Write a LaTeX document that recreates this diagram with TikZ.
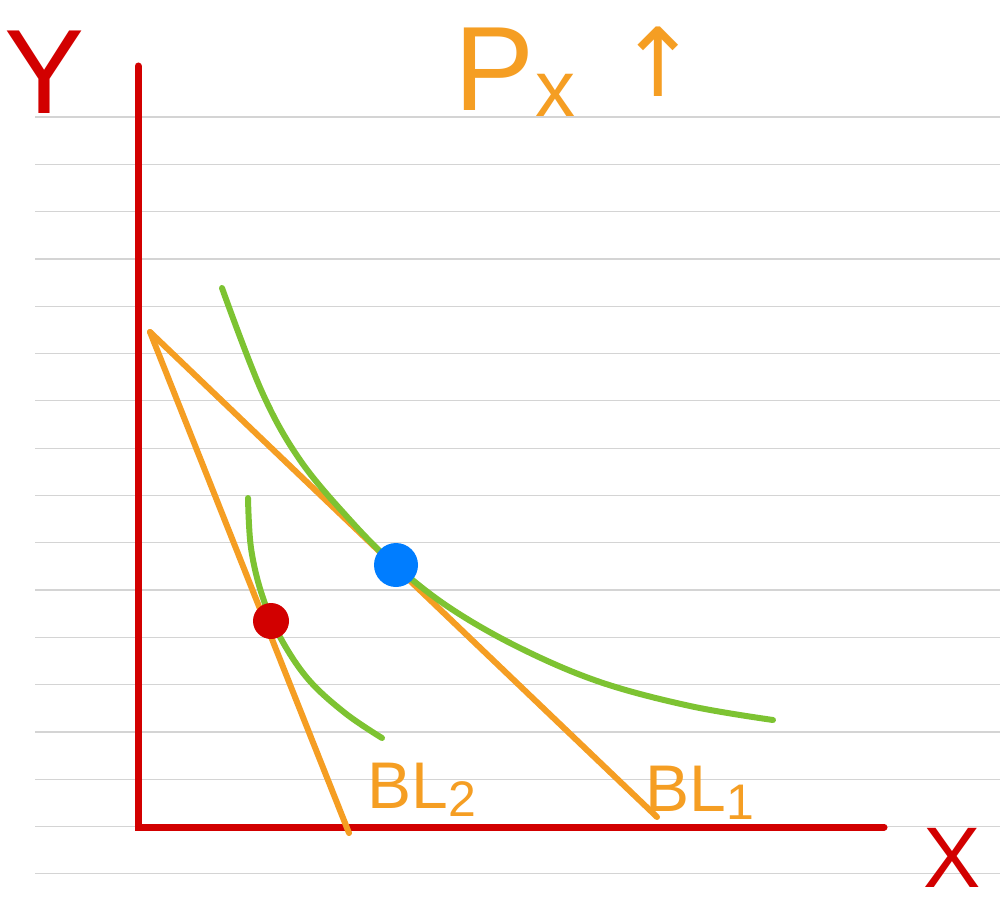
\documentclass[tikz,border=0pt]{standalone}
\usepackage{fontspec}
\setmainfont{Liberation Sans}
\newfontfamily\symfont{DejaVu Sans}
\definecolor{axred}{RGB}{210,0,0}
\definecolor{bor}{RGB}{245,158,35}
\definecolor{icg}{RGB}{125,195,50}
\definecolor{dotblue}{RGB}{0,125,255}
\definecolor{rule}{RGB}{212,212,212}
\tikzset{
  axis/.style={axred,line width=7pt,line cap=round},
  budget/.style={bor,line width=6pt,line cap=round},
  indiff/.style={icg,line width=6pt,line cap=round},
  ruleline/.style={rule,line width=1.2pt},
  lbl/.style={inner sep=0pt,anchor=center},
}
\begin{document}
\begin{tikzpicture}[x=1pt,y=-1pt]
\useasboundingbox (0,0) rectangle (1000,915);
\fill[white] (0,0) rectangle (1000,915);
% ruled paper
\foreach \yy in {117,164.3,211.6,258.9,306.2,353.5,400.8,448.1,495.4,542.7,590,637.3,684.6,731.9,779.2,826.5,873.8}
  \draw[ruleline] (35,\yy) -- (1000,\yy);
% axes
\coordinate (ytop) at (138,66);
\coordinate (origin) at (138,827);
\coordinate (xend) at (884,827);
\draw[axis] (ytop) -- (origin) -- (xend);
% budget lines
\coordinate (bl0) at (150,332);
\coordinate (bl1end) at (657,817);
\coordinate (bl2end) at (349,833);
\draw[budget] (bl0) -- (bl1end);
\draw[budget] (bl0) -- (bl2end);
% indifference curves
\draw[indiff] plot[smooth,tension=0.6] coordinates {(222,288) (262,392) (300,460) (350,520) (395,565) (450,608) (520,648) (600,682) (690,706) (773,720)};
\draw[indiff] plot[smooth,tension=0.6] coordinates {(248,498) (251,548) (262,595) (280,637) (308,679) (345,713) (382,738)};
% optimum points
\node[circle,fill=dotblue,minimum size=44pt,inner sep=0pt] (opt1) at (396,565) {};
\node[circle,fill=axred,minimum size=36pt,inner sep=0pt] (opt2) at (271,621) {};
% labels
\node[lbl,text=axred,font=\fontsize{120}{120}\selectfont] (ylab) at (45,72) {Y};
\node[lbl,text=axred,font=\fontsize{86}{86}\selectfont] (xlab) at (952,858) {X};
\node[lbl,text=bor,font=\fontsize{120}{120}\selectfont] (pxlab) at (515,72) {P\raisebox{-6pt}{\fontsize{80}{80}\selectfont x}};
\node[lbl,text=bor,font=\symfont\fontsize{95}{95}\selectfont] (uparrow) at (658,62) {↑};
\node[lbl,text=bor,font=\fontsize{66}{66}\selectfont] (bl2lab) at (422,790) {BL\raisebox{-8pt}{\fontsize{50}{50}\selectfont 2}};
\node[lbl,text=bor,font=\fontsize{66}{66}\selectfont] (bl1lab) at (700,793) {BL\raisebox{-8pt}{\fontsize{50}{50}\selectfont 1}};
\end{tikzpicture}
\end{document}
